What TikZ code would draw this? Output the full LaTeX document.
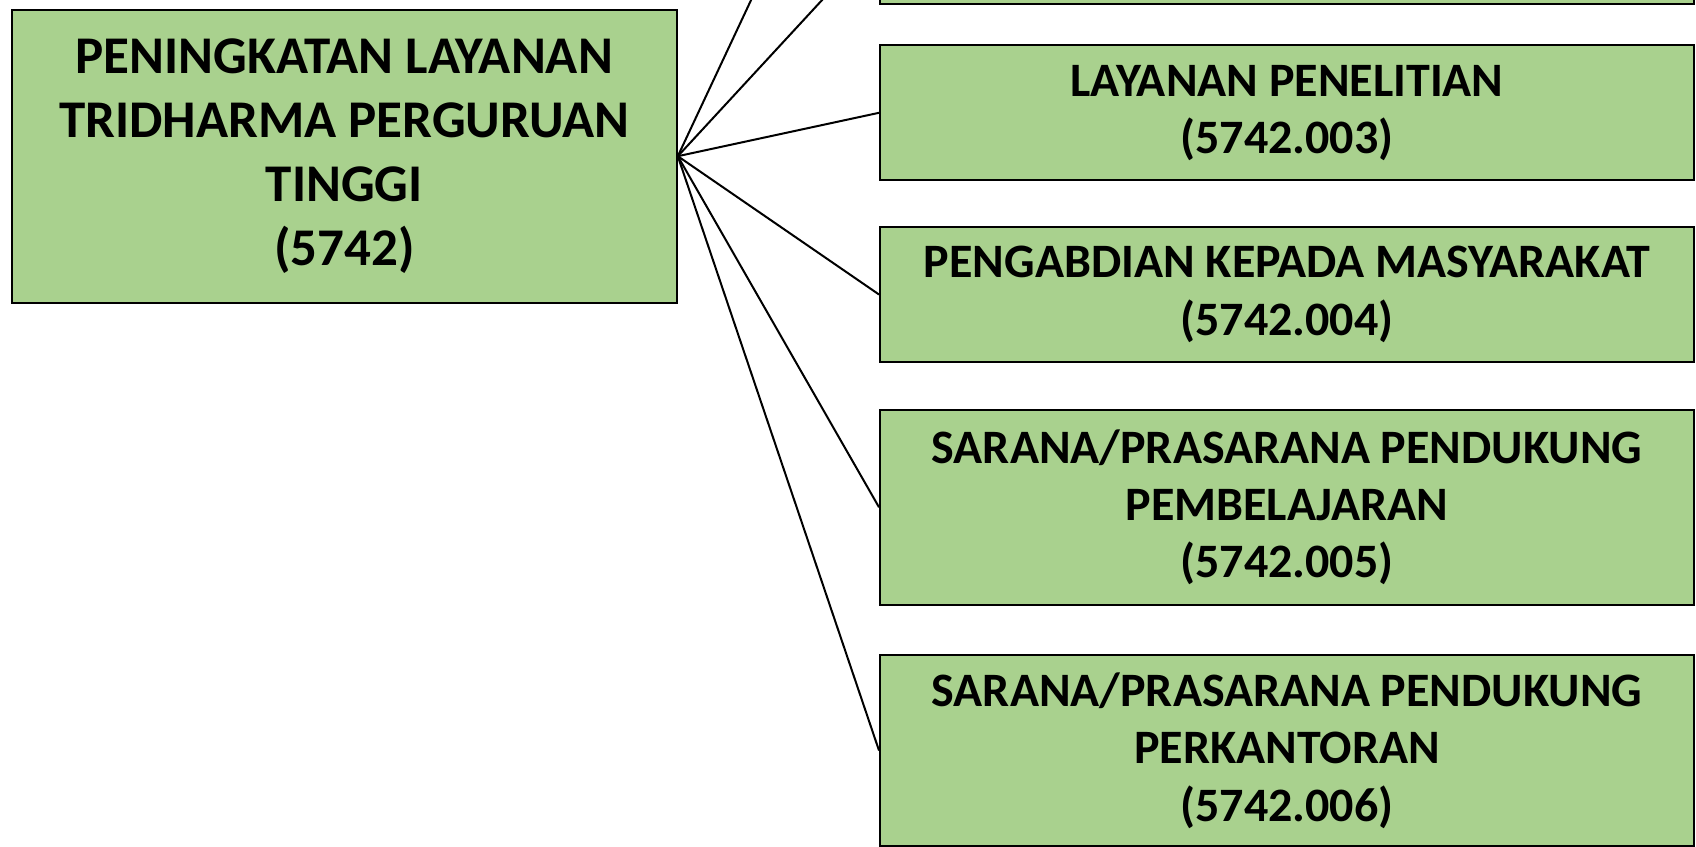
\documentclass[tikz,border=0pt]{standalone}
\usepackage{fontspec}
\setmainfont{Carlito}
\definecolor{boxgreen}{HTML}{A9D18E}

\begin{document}
\begin{tikzpicture}[x=0.5pt, y=0.5pt,
        box/.style={draw, line width=1pt, fill=boxgreen, align=center, inner sep=0pt},
        mainbox/.style={box, minimum width=332.5pt, minimum height=146.5pt,
            font=\bfseries\fontsize{26.5pt}{32pt}\selectfont},
        subbox/.style={box, minimum width=407pt,
            font=\bfseries\fontsize{24pt}{28.7pt}\selectfont},
        link/.style={line width=1pt}]
        \useasboundingbox (0,0) rectangle (1696,-846);
        \clip (0,0) rectangle (1696,-846);

        \node[mainbox, anchor=north west] (0) at (10.8,-8.7) {PENINGKATAN LAYANAN\\TRIDHARMA PERGURUAN\\TINGGI\\(5742)};
        \coordinate (1) at (879,272.6);
        \node[subbox, minimum height=66pt, anchor=south west] (2) at (879,-5.4) {};
        \node[subbox, minimum height=67.5pt, anchor=north west] (3) at (879,-44.3) {LAYANAN PENELITIAN\\(5742.003)};
        \node[subbox, minimum height=67.5pt, anchor=north west] (4) at (879,-226) {PENGABDIAN KEPADA MASYARAKAT\\(5742.004)};
        \node[subbox, minimum height=97.25pt, anchor=north west] (5) at (879,-409) {SARANA/PRASARANA PENDUKUNG\\PEMBELAJARAN\\(5742.005)};
        \node[subbox, minimum height=95.5pt, anchor=north west] (6) at (879,-654) {SARANA/PRASARANA PENDUKUNG\\PERKANTORAN\\(5742.006)};

        \draw[link] (0.east) -- (1);
        \draw[link] (0.east) -- (2.west);
        \draw[link] (0.east) -- (3.west);
        \draw[link] (0.east) -- (4.west);
        \draw[link] (0.east) -- (5.west);
        \draw[link] (0.east) -- (6.west);
    \end{tikzpicture}
\end{document}
